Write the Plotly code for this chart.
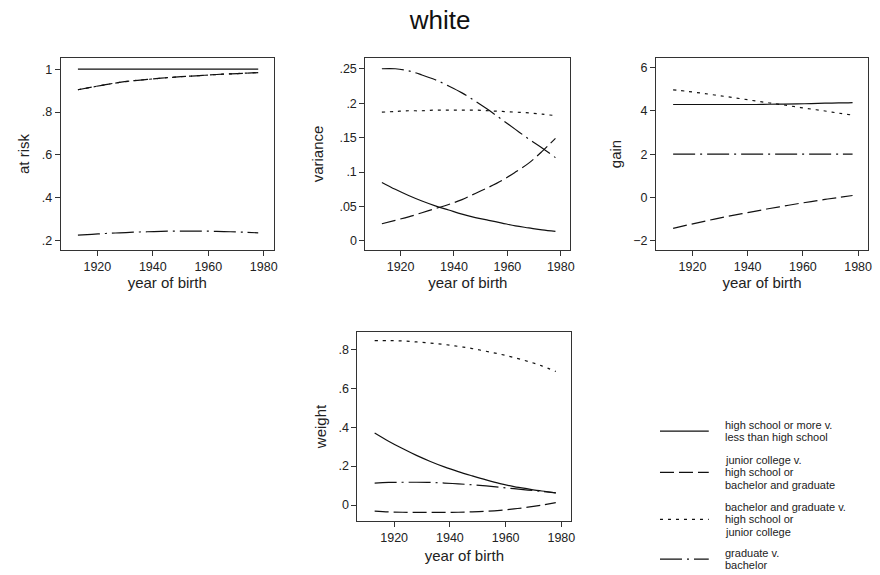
import plotly.graph_objects as go

years = [1913, 1918, 1923, 1928, 1933, 1938, 1943, 1948, 1953, 1958, 1963, 1968, 1973, 1978]

series_names = [
    ["high school or more v.", "less than high school"],
    ["junior college v.", "high school or", "bachelor and graduate"],
    ["bachelor and graduate v.", "high school or", "junior college"],
    ["graduate v.", "bachelor"],
]

# at risk
risk_hs = [1.0] * 14
risk_jc = [0.904, 0.916, 0.928, 0.938, 0.946, 0.952, 0.958, 0.963, 0.967, 0.971, 0.975, 0.978, 0.981, 0.984]
risk_ba = [0.904, 0.916, 0.928, 0.938, 0.946, 0.952, 0.958, 0.963, 0.967, 0.971, 0.975, 0.978, 0.981, 0.984]
risk_gr = [0.226, 0.230, 0.234, 0.237, 0.240, 0.242, 0.244, 0.245, 0.245, 0.245, 0.244, 0.242, 0.240, 0.237]

# variance
var_hs = [0.085, 0.075, 0.066, 0.058, 0.051, 0.045, 0.039, 0.034, 0.030, 0.026, 0.022, 0.019, 0.016, 0.014]
var_jc = [0.025, 0.030, 0.035, 0.041, 0.047, 0.053, 0.060, 0.069, 0.078, 0.088, 0.100, 0.113, 0.130, 0.149]
var_ba = [0.187, 0.188, 0.189, 0.189, 0.190, 0.190, 0.190, 0.190, 0.189, 0.188, 0.187, 0.186, 0.184, 0.182]
var_gr = [0.250, 0.250, 0.247, 0.241, 0.234, 0.225, 0.215, 0.203, 0.190, 0.176, 0.162, 0.148, 0.135, 0.121]

# gain
gain_hs = [4.30, 4.30, 4.30, 4.30, 4.30, 4.30, 4.30, 4.31, 4.32, 4.33, 4.34, 4.36, 4.37, 4.39]
gain_jc = [-1.43, -1.28, -1.14, -1.00, -0.87, -0.75, -0.63, -0.51, -0.40, -0.29, -0.19, -0.09, 0.00, 0.09]
gain_ba = [4.98, 4.91, 4.83, 4.74, 4.65, 4.56, 4.46, 4.37, 4.28, 4.18, 4.09, 4.00, 3.90, 3.81]
gain_gr = [2.0] * 14

# weight
wt_hs = [0.370, 0.328, 0.290, 0.255, 0.224, 0.196, 0.172, 0.150, 0.129, 0.110, 0.095, 0.083, 0.072, 0.063]
wt_jc = [-0.031, -0.035, -0.037, -0.038, -0.038, -0.038, -0.037, -0.035, -0.032, -0.027, -0.020, -0.011, 0.000, 0.012]
wt_ba = [0.845, 0.845, 0.843, 0.838, 0.832, 0.825, 0.815, 0.804, 0.790, 0.775, 0.758, 0.738, 0.715, 0.686]
wt_gr = [0.113, 0.116, 0.117, 0.117, 0.116, 0.113, 0.109, 0.104, 0.098, 0.091, 0.084, 0.077, 0.070, 0.063]

x_ticks = [1920, 1940, 1960, 1980]
risk_ticks = [0.2, 0.4, 0.6, 0.8, 1.0]
risk_labels = [".2", ".4", ".6", ".8", "1"]
var_ticks = [0, 0.05, 0.1, 0.15, 0.2, 0.25]
var_labels = ["0", ".05", ".1", ".15", ".2", ".25"]
gain_ticks = [-2, 0, 2, 4, 6]
gain_labels = ["\u22122", "0", "2", "4", "6"]
wt_ticks = [0, 0.2, 0.4, 0.6, 0.8]
wt_labels = ["0", ".2", ".4", ".6", ".8"]

W, H = 880, 575
FONT = "Liberation Sans, Arial, sans-serif"
INK = "#111111"
TXT = "#222222"
DASHES = ["solid", "14px,5px", "3px,5px", "22px,5px,2px,5px"]

fig = go.Figure()

panels = [
    ("x", "y", [risk_hs, risk_jc, risk_ba, risk_gr]),
    ("x2", "y2", [var_hs, var_jc, var_ba, var_gr]),
    ("x3", "y3", [gain_hs, gain_jc, gain_ba, gain_gr]),
    ("x4", "y4", [wt_hs, wt_jc, wt_ba, wt_gr]),
]
for xa_, ya_, ser in panels:
    for i, vals in enumerate(ser):
        fig.add_trace(go.Scatter(
            x=years, y=vals, mode="lines", xaxis=xa_, yaxis=ya_,
            line=dict(color=INK, width=1.2, dash=DASHES[i], shape="spline"),
            showlegend=False, hoverinfo="skip"))

def px_dom(a, b):
    return [a / W, b / W]

def py_dom(top, bottom):
    return [1 - bottom / H, 1 - top / H]

axis_common = dict(showline=True, linecolor="#333333", linewidth=1, mirror=True,
                   ticks="outside", ticklen=5, tickcolor="#333333", showgrid=False,
                   zeroline=False, tickfont=dict(family=FONT, size=12.5, color=TXT),
                   fixedrange=True)

xrange_ = [1906.8, 1983.6]

def xa(dom, anchor, standoff):
    return dict(axis_common, domain=dom, anchor=anchor, range=xrange_, tickvals=x_ticks,
                title=dict(text="year of birth", font=dict(family=FONT, size=15, color=TXT), standoff=standoff))

def ya(dom, anchor, rng, tv, tt, title, standoff):
    return dict(axis_common, domain=dom, anchor=anchor, range=rng, tickvals=tv, ticktext=tt,
                title=dict(text=title, font=dict(family=FONT, size=15, color=TXT), standoff=standoff))

top_dom = py_dom(58, 250)
fig.update_layout(
    xaxis=xa(px_dom(61, 275), "y", 4),
    yaxis=ya(top_dom, "x", [0.157, 1.052], risk_ticks, risk_labels, "at risk", 8),
    xaxis2=xa(px_dom(367, 573), "y2", 4),
    yaxis2=ya(top_dom, "x2", [-0.0131, 0.2656], var_ticks, var_labels, "variance", 12),
    xaxis3=xa(px_dom(659, 872), "y3", 4),
    yaxis3=ya(top_dom, "x3", [-2.43, 6.45], gain_ticks, gain_labels, "gain", 7),
    xaxis4=xa(px_dom(359, 574), "y4", 6),
    yaxis4=ya(py_dom(332, 521), "x4", [-0.082, 0.889], wt_ticks, wt_labels, "weight", 8),
)

# legend drawn as line samples with labels
leg_first = [425, 460, 507, 553]
LINE_GAP = 12.3
for i, lines in enumerate(series_names):
    n = len(lines)
    mid = leg_first[i] + LINE_GAP * (n - 1) / 2
    yp = 1 - mid / H
    fig.add_shape(type="line", xref="paper", yref="paper", x0=663 / W, x1=712 / W, y0=yp, y1=yp,
                  line=dict(color=INK, width=1.2, dash=DASHES[i]))
    for k, txt in enumerate(lines):
        fig.add_annotation(xref="paper", yref="paper", x=726 / W,
                           y=1 - (leg_first[i] + LINE_GAP * k) / H,
                           xanchor="left", yanchor="middle", text=txt, showarrow=False,
                           font=dict(family=FONT, size=11, color=TXT))

fig.update_layout(
    width=W, height=H, margin=dict(l=0, r=0, t=0, b=0),
    paper_bgcolor="white", plot_bgcolor="white",
    title=dict(text="white", x=0.5, xanchor="center", y=1 - 20 / H, yanchor="middle",
               font=dict(family=FONT, size=26, color="#111111")),
    showlegend=False,
)

fig.write_html("out.html", config={"displayModeBar": False},
               post_script="document.body.style.margin='0px';document.body.style.overflow='hidden';")
